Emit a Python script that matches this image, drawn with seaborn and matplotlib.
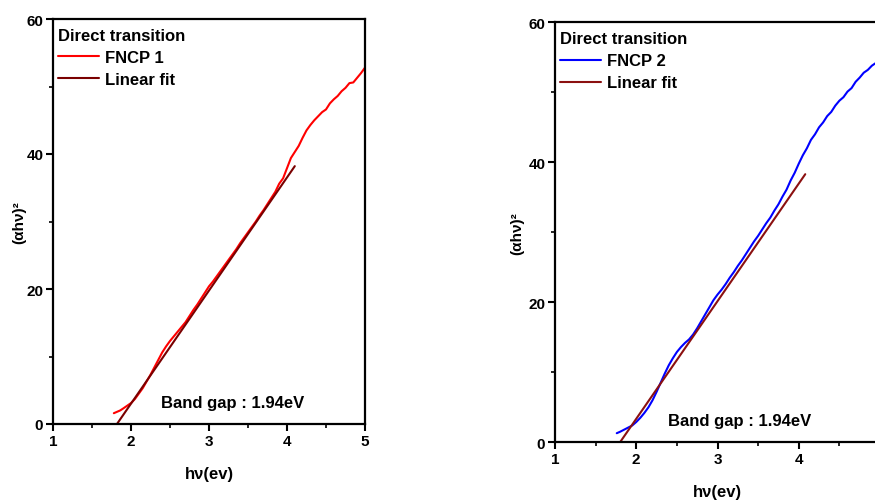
import numpy as np
import pandas as pd
import matplotlib
matplotlib.use("Agg")
import matplotlib.pyplot as plt
import seaborn as sns
from matplotlib.ticker import MultipleLocator

# ---------------- data ----------------
x_fncp1 = [1.78, 1.82, 1.86, 1.90, 1.95, 2.00, 2.05, 2.10, 2.15, 2.20, 2.25, 2.30,
           2.35, 2.40, 2.45, 2.50, 2.55, 2.60, 2.65, 2.70, 2.75, 2.80, 2.85, 2.90,
           2.95, 3.00, 3.05, 3.10, 3.15, 3.20, 3.25, 3.30, 3.35, 3.40, 3.45, 3.50,
           3.55, 3.60, 3.65, 3.70, 3.75, 3.80, 3.85, 3.90, 3.95, 4.00, 4.05, 4.10,
           4.15, 4.20, 4.25, 4.30, 4.35, 4.40, 4.45, 4.50, 4.55, 4.60, 4.65, 4.70,
           4.75, 4.80, 4.85, 4.90, 4.95, 5.00]
y_fncp1 = [1.6, 1.8, 2.0, 2.3, 2.7, 3.1, 3.7, 4.5, 5.3, 6.3, 7.3, 8.4,
           9.5, 10.6, 11.5, 12.3, 13.0, 13.7, 14.4, 15.1, 16.0, 16.9, 17.7, 18.6,
           19.5, 20.4, 21.1, 21.9, 22.7, 23.5, 24.3, 25.1, 25.9, 26.8, 27.6, 28.4,
           29.2, 30.0, 30.9, 31.7, 32.6, 33.5, 34.4, 35.6, 36.4, 37.9, 39.4, 40.3,
           41.2, 42.4, 43.5, 44.3, 45.0, 45.6, 46.2, 46.6, 47.5, 48.1, 48.6, 49.3,
           49.8, 50.5, 50.6, 51.3, 52.0, 52.8]
x_fit1 = [1.82, 4.10]
y_fit1 = [0.0, 38.2]

x_fncp2 = [1.76, 1.80, 1.85, 1.90, 1.95, 2.00, 2.05, 2.10, 2.15, 2.20, 2.25, 2.30,
           2.35, 2.40, 2.45, 2.50, 2.55, 2.60, 2.65, 2.70, 2.75, 2.80, 2.85, 2.90,
           2.95, 3.00, 3.05, 3.10, 3.15, 3.20, 3.25, 3.30, 3.35, 3.40, 3.45, 3.50,
           3.55, 3.60, 3.65, 3.70, 3.75, 3.80, 3.85, 3.90, 3.95, 4.00, 4.05, 4.10,
           4.15, 4.20, 4.25, 4.30, 4.35, 4.40, 4.45, 4.50, 4.55, 4.60, 4.65, 4.70,
           4.75, 4.80, 4.85, 4.90, 4.95, 5.00]
y_fncp2 = [1.3, 1.5, 1.8, 2.1, 2.4, 2.9, 3.5, 4.2, 5.0, 6.0, 7.2, 8.5,
           9.8, 11.0, 12.0, 12.9, 13.6, 14.2, 14.7, 15.4, 16.3, 17.3, 18.3, 19.3,
           20.3, 21.1, 21.8, 22.6, 23.5, 24.3, 25.2, 26.0, 26.9, 27.8, 28.7, 29.5,
           30.4, 31.3, 32.1, 33.1, 34.0, 35.1, 36.1, 37.4, 38.5, 39.8, 41.0, 42.0,
           43.2, 44.0, 45.0, 45.7, 46.6, 47.2, 48.1, 48.8, 49.3, 50.1, 50.6, 51.5,
           52.1, 52.8, 53.2, 53.8, 54.2, 54.7]
x_fit2 = [1.80, 4.08]
y_fit2 = [0.0, 38.3]

x_ticks_left = [1, 2, 3, 4, 5]
x_ticks_right = [1, 2, 3, 4]
y_ticks = [0, 20, 40, 60]
band_gap_text = "Band gap : 1.94eV"
legend_title = "Direct transition"

# ---------------- style ----------------
sns.set_theme(style="ticks")
plt.rcParams["font.family"] = ["Liberation Sans", "DejaVu Sans"]
plt.rcParams["font.weight"] = "bold"
plt.rcParams["axes.labelweight"] = "bold"
plt.rcParams["text.color"] = "black"
plt.rcParams["axes.labelcolor"] = "black"
plt.rcParams["xtick.color"] = "black"
plt.rcParams["ytick.color"] = "black"
plt.rcParams["xtick.labelcolor"] = "black"
plt.rcParams["ytick.labelcolor"] = "black"

fig = plt.figure(figsize=(8.75, 5.02), dpi=100)
fig.patch.set_facecolor("white")

ax1 = fig.add_axes([53 / 875, (502 - 425) / 502, 312 / 875, 405 / 502])
ax2 = fig.add_axes([555 / 875, (502 - 443.3) / 502, 325 / 875, 420 / 502])

panels = [
    (ax1, x_fncp1, y_fncp1, x_fit1, y_fit1, "FNCP 1", "#ff0000", "#7a0000",
     x_ticks_left, -0.085),
    (ax2, x_fncp2, y_fncp2, x_fit2, y_fit2, "FNCP 2", "#0000ff", "#8b1010",
     x_ticks_right, -0.095),
]

for ax, xd, yd, xf, yf, name, c_data, c_fit, xt, ylab_x in panels:
    df = pd.DataFrame({"x": xd, "y": yd})
    dfit = pd.DataFrame({"x": xf, "y": yf})
    sns.lineplot(data=df, x="x", y="y", ax=ax, color=c_data, lw=1.5,
                 label=name, sort=False)
    sns.lineplot(data=dfit, x="x", y="y", ax=ax, color=c_fit, lw=1.5,
                 label="Linear fit", sort=False)
    ax.set_xlim(1, 5)
    ax.set_ylim(0, 60)
    ax.set_xticks(xt)
    ax.set_yticks(y_ticks)
    ax.xaxis.set_minor_locator(MultipleLocator(0.5))
    ax.yaxis.set_minor_locator(MultipleLocator(10))
    ax.tick_params(which="major", direction="out", length=5, width=1.5,
                   labelsize=11, pad=2, color="black", labelcolor="black")
    ax.tick_params(which="minor", direction="out", length=3, width=1.2,
                   color="black")
    for lab in ax.get_xticklabels() + ax.get_yticklabels():
        lab.set_fontweight("bold")
    for sp in ax.spines.values():
        sp.set_visible(True)
        sp.set_linewidth(1.6)
        sp.set_color("black")
    ax.set_xlabel("hν(ev)", fontsize=12, fontweight="bold", labelpad=13,
                  color="black")
    ax.set_ylabel("(αhν)²", fontsize=11, fontweight="bold", color="black")
    ax.yaxis.set_label_coords(ylab_x, 0.5)
    ax.text(2.39, 2.5, band_gap_text, fontsize=12, fontweight="bold",
            ha="left", va="baseline", color="black")
    leg = ax.legend(title=legend_title, loc="upper left", frameon=False,
                    bbox_to_anchor=(-0.012, 1.0), borderaxespad=0.35,
                    handlelength=2.45, handletextpad=0.35, labelspacing=0.42,
                    prop={"size": 12, "weight": "bold"},
                    title_fontproperties={"size": 12, "weight": "bold"},
                    alignment="left", borderpad=0.2)
    for t in leg.get_texts():
        t.set_color("black")
    leg.get_title().set_color("black")

fig.savefig("out.png", dpi=100, facecolor="white")
